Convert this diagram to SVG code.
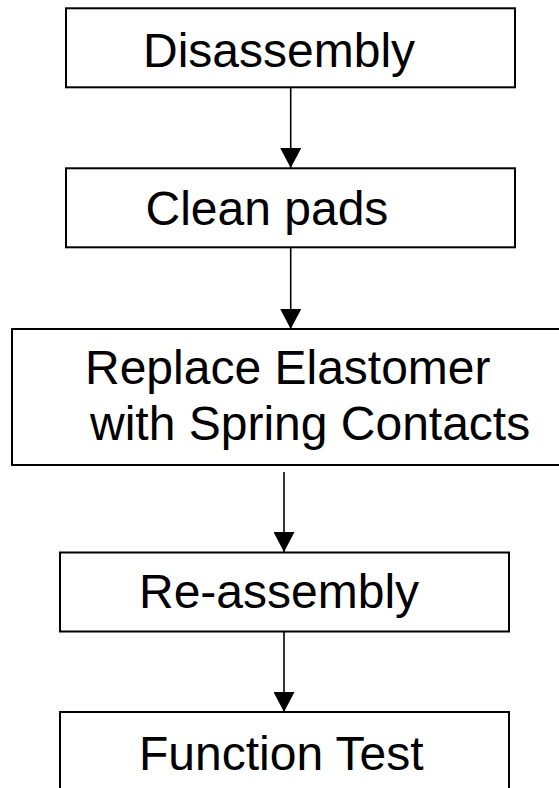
<svg xmlns="http://www.w3.org/2000/svg" width="559" height="788" viewBox="0 0 559 788">
<style>
.box{fill:#fff;stroke:#000;stroke-width:2}
.lbl{font-family:"Liberation Sans",Arial,sans-serif;font-size:48px;fill:#000}
.conn{stroke:#000;stroke-width:1.6;fill:none}
</style>
<defs>
<marker id="ah" markerUnits="userSpaceOnUse" markerWidth="21" markerHeight="21" refX="20" refY="10.5" orient="auto" viewBox="0 0 21 21">
<path d="M0,0 L20,10.5 L0,21 Z" fill="#000"/>
</marker>
</defs>
<rect width="559" height="788" fill="#fff"/>
<g id="connectors">
<line class="conn" x1="290.7" y1="88" x2="290.7" y2="168" marker-end="url(#ah)"/>
<line class="conn" x1="290.7" y1="248" x2="290.7" y2="329" marker-end="url(#ah)"/>
<line class="conn" x1="284" y1="472" x2="284" y2="552" marker-end="url(#ah)"/>
<line class="conn" x1="284" y1="632" x2="284" y2="712" marker-end="url(#ah)"/>
</g>
<g id="node-disassembly">
<rect class="box" x="66" y="8.3" width="449" height="79"/>
<text class="lbl" x="143" y="67">Disassembly</text>
</g>
<g id="node-clean-pads">
<rect class="box" x="66" y="168.3" width="449" height="79"/>
<text class="lbl" x="145.5" y="225">Clean pads</text>
</g>
<g id="node-replace">
<rect class="box" x="12" y="329" width="560" height="136"/>
<text class="lbl" x="85" y="384">Replace Elastomer</text>
<text class="lbl" x="90" y="440">with Spring Contacts</text>
</g>
<g id="node-reassembly">
<rect class="box" x="60" y="552.5" width="449" height="79"/>
<text class="lbl" x="139" y="608">Re-assembly</text>
</g>
<g id="node-function-test">
<rect class="box" x="60" y="712" width="449" height="90"/>
<text class="lbl" x="139" y="770">Function Test</text>
</g>
</svg>
